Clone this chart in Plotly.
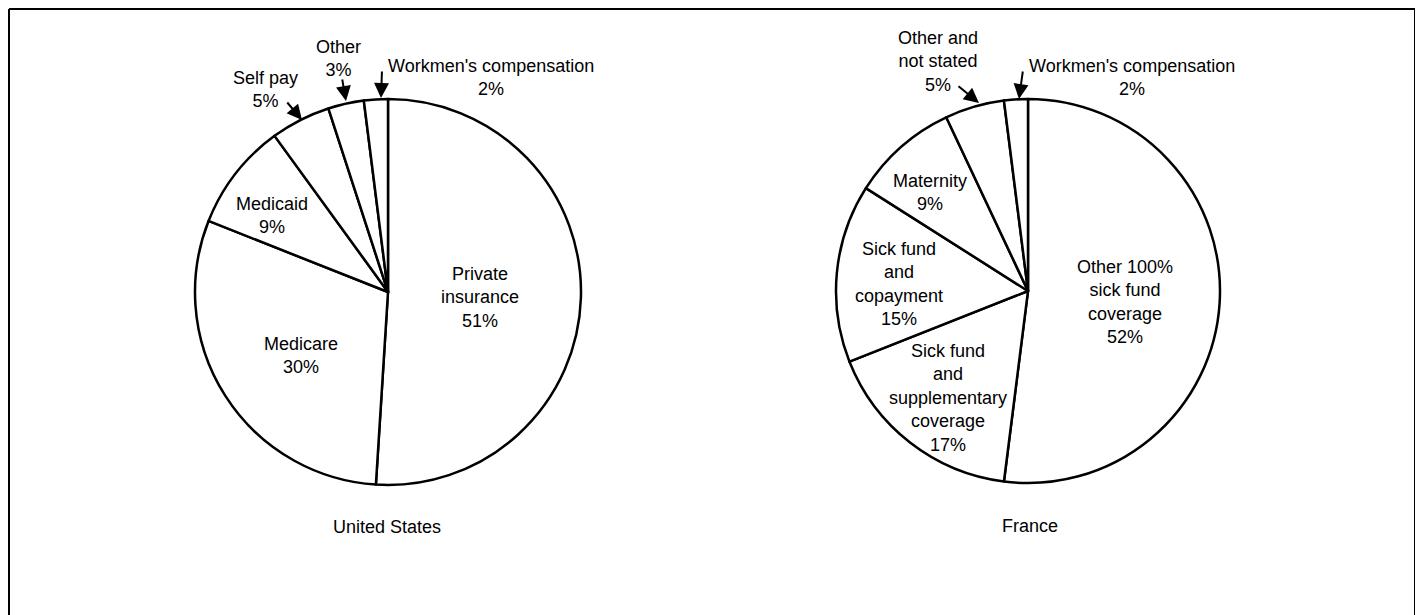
import plotly.graph_objects as go

W, H = 1423, 615
OFF = 8  # the page body adds an 8px margin; positions below are page pixels

# data (percent of patients by payer)
us_labels = ["Private insurance", "Medicare", "Medicaid", "Self pay", "Other", "Workmen's compensation"]
us_values = [51, 30, 9, 5, 3, 2]
us_text = ["Private<br>insurance", "Medicare", "Medicaid", "Self pay", "Other", "Workmen's compensation"]

fr_labels = ["Other 100% sick fund coverage", "Sick fund and supplementary coverage",
             "Sick fund and copayment", "Maternity", "Other and not stated", "Workmen's compensation"]
fr_values = [52, 17, 15, 9, 5, 2]
fr_text = ["Other 100%<br>sick fund<br>coverage", "Sick fund<br>and<br>supplementary<br>coverage",
           "Sick fund<br>and<br>copayment", "Maternity", "Other and<br>not stated", "Workmen's compensation"]

titles = ["United States", "France"]

# label placement in pixels (centre of text block), and arrows (tail, tip)
us_pos = [(480, 297), (301, 356), (272, 216), (265, 90), (338, 59), (491, 77)]
us_arrows = [None, None, None, ((286, 101), (302, 120)), ((342, 78), (346, 101)), ((382, 70), (381, 98))]
fr_pos = [(1125, 302), (948, 398), (899, 284), (930, 192), (938, 61), (1132, 78)]
fr_arrows = [None, None, None, None, ((957, 85), (979, 103)), ((1023, 70), (1019, 99))]
title_pos = [(387, 527), (1030, 526)]

FONT = dict(family="Liberation Sans, Arial, Helvetica, sans-serif", size=18, color="black")


def paper(x, y):
    return (x - OFF) / W, 1 - (y - OFF) / H


def pie_domain(cx, cy, r):
    x0, y1 = paper(cx - r, cy - r)
    x1, y0 = paper(cx + r, cy + r)
    return dict(x=[x0, x1], y=[y0, y1])


fig = go.Figure()
for labels, values, dom in [(us_labels, us_values, pie_domain(388, 292, 193)),
                            (fr_labels, fr_values, pie_domain(1028, 291, 192))]:
    fig.add_trace(go.Pie(
        labels=labels, values=values, sort=False, direction="clockwise", rotation=0,
        textinfo="none", hoverinfo="label+percent", domain=dom,
        marker=dict(colors=["white"] * len(values), line=dict(color="black", width=2.5)),
        showlegend=False,
    ))

annotations = []
for texts, values, pos, arrows in [(us_text, us_values, us_pos, us_arrows),
                                   (fr_text, fr_values, fr_pos, fr_arrows)]:
    for t, v, (x, y), arr in zip(texts, values, pos, arrows):
        px_, py_ = paper(x, y)
        annotations.append(dict(x=px_, y=py_, xref="paper", yref="paper", text=f"{t}<br>{v}%",
                                showarrow=False, xanchor="center", yanchor="middle",
                                font=FONT, align="center"))
        if arr:
            (tx, ty), (hx, hy) = arr
            hx_p, hy_p = paper(hx, hy)
            annotations.append(dict(x=hx_p, y=hy_p, xref="paper", yref="paper", text="",
                                    showarrow=True, ax=tx - hx, ay=ty - hy,
                                    arrowhead=2, arrowsize=1.5, arrowwidth=2, arrowcolor="black",
                                    standoff=0, startstandoff=0))

for t, (x, y) in zip(titles, title_pos):
    px_, py_ = paper(x, y)
    annotations.append(dict(x=px_, y=py_, xref="paper", yref="paper", text=t, showarrow=False,
                            xanchor="center", yanchor="middle", font=FONT))

# frame around the figure (bottom edge is cut off in the original);
# drawn at the figure's top/left edge since the page margin already offsets it
x_l, y_t = 1 / W, 1 - 1 / H
x_r, _ = paper(1415, 7)
frame = dict(type="line", xref="paper", yref="paper", line=dict(color="black", width=2))
shapes = [
    dict(frame, x0=x_l, x1=x_r, y0=y_t, y1=y_t),
    dict(frame, x0=x_l, x1=x_l, y0=y_t, y1=0),
    dict(frame, x0=x_r, x1=x_r, y0=y_t, y1=0),
]

fig.update_layout(
    width=W, height=H,
    margin=dict(l=0, r=0, t=0, b=0),
    paper_bgcolor="white", plot_bgcolor="white",
    annotations=annotations, shapes=shapes,
    showlegend=False,
)

fig.write_html("out.html")
